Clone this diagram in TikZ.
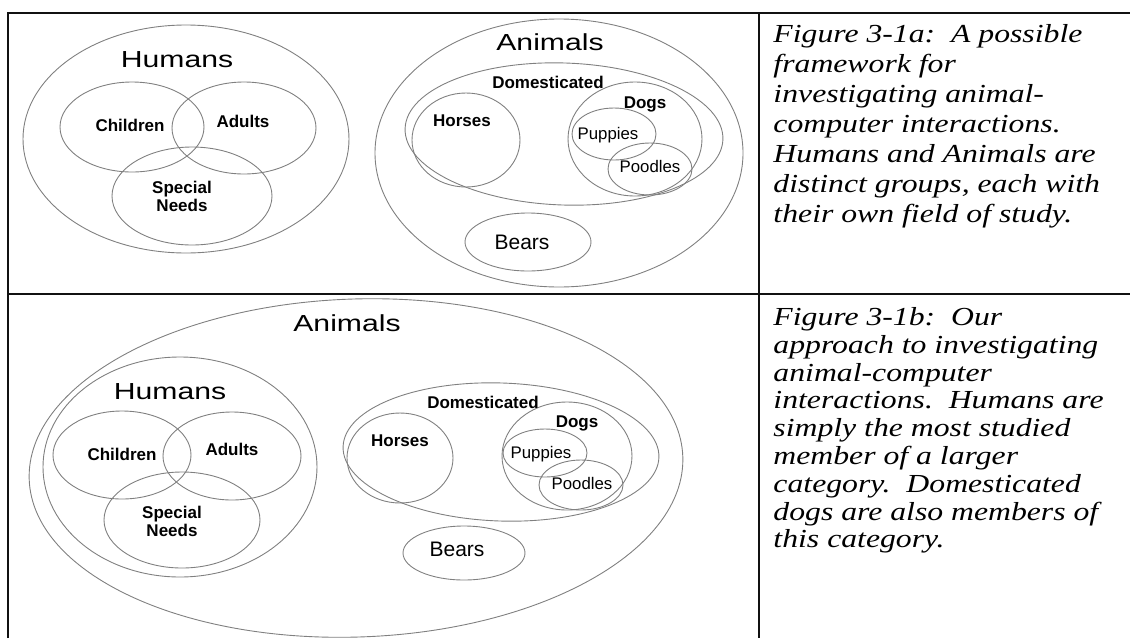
\documentclass[tikz,border=0pt]{standalone}
\usepackage{fontspec}
\setmainfont{Liberation Serif}
\setsansfont{Liberation Sans}
\usepackage{tikz}
\definecolor{SetLine}{HTML}{808080}
\definecolor{FrameLine}{HTML}{111111}
\definecolor{LabelText}{HTML}{000000}

\tikzset{
  setline/.style={draw=SetLine,line width=0.45pt},
  frameline/.style={draw=FrameLine,line width=1pt},
  biglabel/.style={text=LabelText,inner sep=0pt,xscale=1.3,font=\sffamily\fontsize{11.6}{13}\selectfont},
  midlabel/.style={text=LabelText,inner sep=0pt,font=\sffamily\fontsize{10.5}{12}\selectfont},
  boldlabel/.style={text=LabelText,inner sep=0pt,align=center,font=\sffamily\bfseries\fontsize{8.5}{9}\selectfont},
  smalllabel/.style={text=LabelText,inner sep=0pt,font=\sffamily\fontsize{8.4}{10}\selectfont},
  captiontext/.style={text=LabelText,inner sep=0pt,anchor=north west,align=left,xscale=1.22},
}

\begin{document}
\begin{tikzpicture}[x=0.5pt,y=-0.5pt]
      \useasboundingbox (0,0) rectangle (1130,638);
      \draw[frameline] (8,638) -- (8,13) -- (1130,13);
      \draw[frameline] (8,294) -- (1130,294);
      \draw[frameline] (759,13) -- (759,638);

      \draw[setline] (186,139) ellipse [x radius=163, y radius=114];
      \draw[setline] (132,127) ellipse [x radius=72, y radius=45];
      \draw[setline] (244,128) ellipse [x radius=72, y radius=46];
      \draw[setline] (192,196) ellipse [x radius=80, y radius=49];
      \node[biglabel] (humansA) at (177,60) {Humans};
      \node[boldlabel] (childrenA) at (130,125) {Children};
      \node[boldlabel] (adultsA) at (243,121) {Adults};
      \node[boldlabel] (needsA) at (182,196) {Special\\Needs};

      \draw[setline] (559,153) ellipse [x radius=184, y radius=134];
      \draw[setline,rotate around={-2:(564,134)}] (564,134) ellipse [x radius=159, y radius=71];
      \draw[setline] (466,140) ellipse [x radius=54, y radius=47];
      \draw[setline] (635,139) ellipse [x radius=67, y radius=57];
      \draw[setline] (614,134) ellipse [x radius=42, y radius=26];
      \draw[setline] (650,169) ellipse [x radius=42, y radius=26];
      \draw[setline] (528,242) ellipse [x radius=63, y radius=29];
      \node[biglabel] (animalsA) at (550,42) {Animals};
      \node[boldlabel] (domA) at (548,82) {Domesticated};
      \node[boldlabel] (horsesA) at (462,121) {Horses};
      \node[boldlabel] (dogsA) at (645,104) {Dogs};
      \node[smalllabel] (puppiesA) at (608,135) {Puppies};
      \node[smalllabel] (poodlesA) at (650,166) {Poodles};
      \node[midlabel] (bearsA) at (522,242) {Bears};

      \node[captiontext,font=\itshape\fontsize{13}{15}\selectfont] (captionA) at (773,24)
        {Figure 3-1a:\ \ A possible\\framework for\\investigating animal-\\computer interactions.\\Humans and Animals are\\distinct groups, each with\\their own field of study.};

      \draw[setline,rotate around={2:(356,468)}] (356,468) ellipse [x radius=327, y radius=169];
      \draw[setline] (180,467) ellipse [x radius=137, y radius=110];
      \draw[setline] (122,455) ellipse [x radius=69, y radius=44];
      \draw[setline] (232,456) ellipse [x radius=69, y radius=44];
      \draw[setline] (182,520) ellipse [x radius=78, y radius=48];
      \node[biglabel] (animalsB) at (347,323) {Animals};
      \node[biglabel] (humansB) at (170,392) {Humans};
      \node[boldlabel] (childrenB) at (122,454) {Children};
      \node[boldlabel] (adultsB) at (232,449) {Adults};
      \node[boldlabel] (needsB) at (172,521) {Special\\Needs};

      \draw[setline,rotate around={-2:(501,452)}] (501,452) ellipse [x radius=158, y radius=69];
      \draw[setline] (400,458) ellipse [x radius=53, y radius=45];
      \draw[setline] (567,456) ellipse [x radius=65, y radius=54];
      \draw[setline] (545,453) ellipse [x radius=42, y radius=24];
      \draw[setline] (581,485) ellipse [x radius=42, y radius=25];
      \draw[setline] (464,553) ellipse [x radius=61, y radius=27];
      \node[boldlabel] (domB) at (483,402) {Domesticated};
      \node[boldlabel] (horsesB) at (400,441) {Horses};
      \node[boldlabel] (dogsB) at (577,423) {Dogs};
      \node[smalllabel] (puppiesB) at (541,454) {Puppies};
      \node[smalllabel] (poodlesB) at (582,483) {Poodles};
      \node[midlabel] (bearsB) at (457,549) {Bears};

      \node[captiontext,font=\itshape\fontsize{13}{13.9}\selectfont] (captionB) at (773,307)
        {Figure 3-1b:\ \ Our\\approach to investigating\\animal-computer\\interactions.\ \ Humans are\\simply the most studied\\member of a larger\\category.\ \ Domesticated\\dogs are also members of\\this category.};
    \end{tikzpicture}
\end{document}
